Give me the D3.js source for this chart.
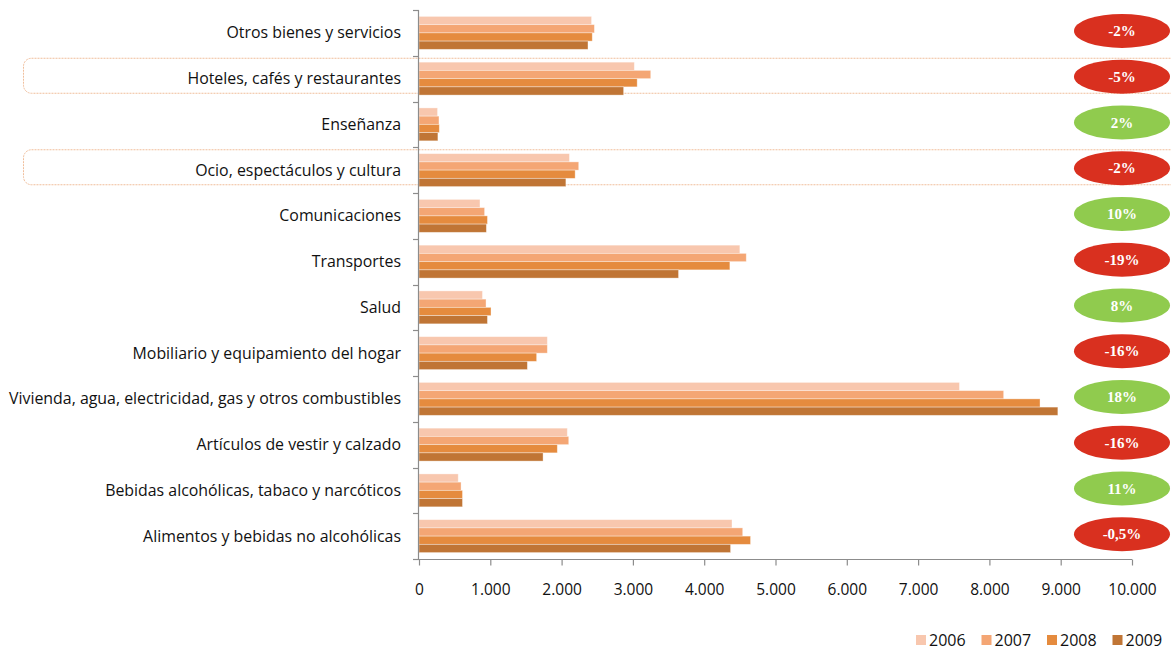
<!DOCTYPE html>
<html>
<head>
<meta charset="utf-8">
<script src="https://cdn.jsdelivr.net/npm/d3@7"></script>
<style>
  html, body { margin: 0; padding: 0; background: #fff; }
  svg { display: block; }
  text { font-family: "Open Sans", Lato, sans-serif; }
</style>
</head>
<body>
<svg id="chart" width="1171" height="651"></svg>
<script>
// Gasto medio por grupos de consumo, 2006-2009
const categories = [
  "Otros bienes y servicios",
  "Hoteles, cafés y restaurantes",
  "Enseñanza",
  "Ocio, espectáculos y cultura",
  "Comunicaciones",
  "Transportes",
  "Salud",
  "Mobiliario y equipamiento del hogar",
  "Vivienda, agua, electricidad, gas y otros combustibles",
  "Artículos de vestir y calzado",
  "Bebidas alcohólicas, tabaco y narcóticos",
  "Alimentos y bebidas no alcohólicas"
];
const years = ["2006", "2007", "2008", "2009"];
const values2006 = [2420, 3020, 260, 2110, 855, 4500, 890, 1800, 7580, 2080, 550, 4390];
const values2007 = [2460, 3250, 280, 2240, 920, 4590, 940, 1800, 8200, 2100, 590, 4540];
const values2008 = [2430, 3060, 285, 2190, 960, 4360, 1010, 1650, 8710, 1940, 610, 4650];
const values2009 = [2370, 2870, 265, 2060, 945, 3640, 960, 1520, 8960, 1740, 610, 4370];
const changeLabels = ["-2%", "-5%", "2%", "-2%", "10%", "-19%", "8%", "-16%", "18%", "-16%", "11%", "-0,5%"];
const highlighted = ["Hoteles, cafés y restaurantes", "Ocio, espectáculos y cultura"];
const xTicks = [0, 1000, 2000, 3000, 4000, 5000, 6000, 7000, 8000, 9000, 10000];

const series = [values2006, values2007, values2008, values2009];
const colors = ["#F8C7AE", "#F4A674", "#E58B3E", "#C07535"];

const svg = d3.select("#chart");
const plot = { left: 419, right: 1132, top: 10, bottom: 559 };

const locale = d3.formatLocale({ decimal: ",", thousands: ".", grouping: [3], currency: ["", "€"] });
const fmt = locale.format(",d");

const x = d3.scaleLinear().domain([0, 10000]).range([plot.left, plot.right]);
const y = d3.scaleBand().domain(categories).range([plot.top, plot.bottom]);
const yInner = d3.scaleBand().domain(years).range([0, y.bandwidth() * 0.72]);
const barOffset = y.bandwidth() * 0.14;

// highlighted rows: dotted rounded frames behind the bars
svg.append("g").selectAll("rect")
  .data(highlighted)
  .join("rect")
  .attr("x", 23.5)
  .attr("y", d => y(d) + 2.5)
  .attr("width", 1190)
  .attr("height", 35)
  .attr("rx", 8)
  .attr("fill", "none")
  .attr("stroke", "#F0BE9B")
  .attr("stroke-width", 1)
  .attr("stroke-dasharray", "2,1");

// bars
const groups = svg.append("g").selectAll("g")
  .data(categories)
  .join("g")
  .attr("transform", d => `translate(0,${y(d) + barOffset})`);

groups.selectAll("rect")
  .data((d, i) => years.map((yr, j) => ({ yr, v: series[j][i], c: colors[j] })))
  .join("rect")
  .attr("x", x(0))
  .attr("y", d => yInner(d.yr))
  .attr("width", d => x(d.v) - x(0))
  .attr("height", yInner.bandwidth())
  .attr("fill", d => d.c)
  .attr("stroke", "#fff")
  .attr("stroke-opacity", 0.45)
  .attr("stroke-width", 0.8);

// left axis (category boundaries)
const yAxis = svg.append("g");
yAxis.append("line")
  .attr("x1", plot.left - 0.5).attr("x2", plot.left - 0.5)
  .attr("y1", plot.top).attr("y2", plot.bottom)
  .attr("stroke", "#8c8c8c").attr("stroke-width", 1.2);
const bounds = categories.map(c => y(c)).concat([plot.bottom]);
yAxis.selectAll("line.tick")
  .data(bounds)
  .join("line")
  .attr("class", "tick")
  .attr("x1", plot.left - 6).attr("x2", plot.left)
  .attr("y1", d => Math.round(d) + 0.5).attr("y2", d => Math.round(d) + 0.5)
  .attr("stroke", "#8c8c8c").attr("stroke-width", 1.2);

// category labels
svg.append("g").selectAll("text")
  .data(categories)
  .join("text")
  .attr("x", 401)
  .attr("y", d => y(d) + y.bandwidth() / 2)
  .attr("dy", "0.35em")
  .attr("text-anchor", "end")
  .attr("font-size", 15.9)
  .attr("fill", "#111")
  .text(d => d);

// bottom axis
const xAxis = d3.axisBottom(x).tickValues(xTicks).tickFormat(fmt).tickSize(6).tickSizeOuter(0);
const gx = svg.append("g")
  .attr("transform", `translate(0,${plot.bottom + 0.5})`)
  .call(xAxis);
gx.select(".domain").attr("stroke", "#8c8c8c").attr("stroke-width", 1.2)
  .attr("d", `M${plot.left - 6},0H${plot.right}`);
gx.selectAll(".tick line").attr("stroke", "#8c8c8c").attr("stroke-width", 1.2);
gx.selectAll(".tick text")
  .attr("font-family", "'Open Sans', sans-serif")
  .attr("font-size", 15.5)
  .attr("fill", "#111")
  .attr("y", 24);

// change 2006-2009 pills
const pills = svg.append("g").selectAll("g")
  .data(categories)
  .join("g")
  .attr("transform", d => `translate(1122,${y(d) + y.bandwidth() / 2 - 2})`);
pills.append("ellipse")
  .attr("rx", 48).attr("ry", 17)
  .attr("fill", (d, i) => changeLabels[i].startsWith("-") ? "#D9301F" : "#90CB4E");
pills.append("text")
  .attr("text-anchor", "middle")
  .attr("dy", "0.35em")
  .attr("font-weight", "bold")
  .attr("font-size", 15)
  .attr("fill", "#fff")
  .style("font-family", "'Liberation Serif', serif")
  .text((d, i) => changeLabels[i]);

// legend
const legend = svg.append("g").selectAll("g")
  .data(years)
  .join("g")
  .attr("transform", (d, i) => `translate(${916 + i * 65.5},635)`);
legend.append("rect")
  .attr("width", 10).attr("height", 10)
  .attr("fill", (d, i) => colors[i]);
legend.append("text")
  .attr("x", 13).attr("y", 5)
  .attr("dy", "0.36em")
  .attr("font-size", 16)
  .attr("fill", "#111")
  .text(d => d);
</script>
</body>
</html>
